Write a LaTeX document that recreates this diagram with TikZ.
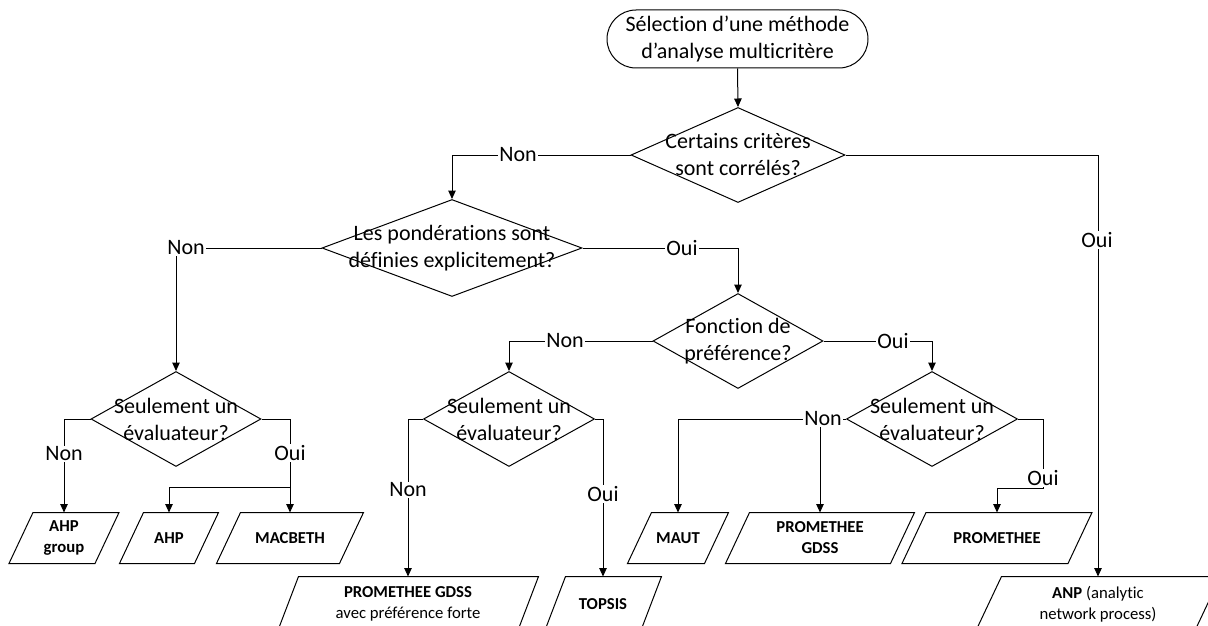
\documentclass[tikz,border=0pt]{standalone}
\usepackage{fontspec}
\setmainfont{Carlito}[Ligatures=NoCommon]
\usetikzlibrary{shapes.geometric,arrows.meta}
\newcommand\mfBig{\fontsize{22}{27}\selectfont}
\newcommand\mfBox{\fontsize{16.7}{21}\selectfont}
% name, centre, full width, height, slant, text
\newcommand\iobox[6]{%
  \node[iotext, minimum width=#3, minimum height=#4] (#1) at (#2) {#6};
  \draw[ioframe] ([xshift=#5]#1.north west) -- (#1.north east) -- ([xshift=-#5]#1.south east) -- (#1.south west) -- cycle;}
\begin{document}
\begin{tikzpicture}[x=1pt,y=-1pt,
  line width=1pt,
  dec/.style={draw, shape=diamond, inner sep=0pt},
  dtext/.style={font=\mfBig, align=center, inner sep=0pt},
  term/.style={draw, rectangle, rounded corners=29pt, minimum width=261pt, minimum height=58pt, align=center, font=\mfBig, inner sep=0pt},
  iotext/.style={inner sep=0pt, align=center, font=\mfBox},
  ioframe/.style={draw, line join=miter},
  arr/.style={-{Triangle[length=8.5pt,width=7.5pt]}},
  lab/.style={fill=white, inner sep=1pt, font=\mfBig}]
\useasboundingbox (0,0) rectangle (1208,626);
\clip (0,0) rectangle (1208,626);

% start
\node[term] (start) at (737.5,39) {Sélection d’une méthode\\d’analyse multicritère};

% decisions
\node[dec, minimum width=214pt, minimum height=95pt, label={[dtext]center:Certains critères\\sont corrélés?}] (d1) at (738,155) {};
\node[dec, minimum width=260pt, minimum height=97pt, label={[dtext]center:Les pondérations sont\\définies explicitement?}] (d2) at (452,248) {};
\node[dec, minimum width=170pt, minimum height=95pt, label={[dtext]center:Seulement un\\évaluateur?}] (d3) at (176,419) {};
\node[dec, minimum width=171pt, minimum height=95pt, label={[dtext]center:Seulement un\\évaluateur?}] (d4) at (509,419) {};
\node[dec, minimum width=170pt, minimum height=95pt, label={[dtext]center:Fonction de\\préférence?}] (d5) at (738,341) {};
\node[dec, minimum width=171pt, minimum height=95pt, label={[dtext]center:Seulement un\\évaluateur?}] (d6) at (932,419) {};

% outputs
\iobox{ahpg}{64,538}{109}{50}{24}{\textbf{AHP}\\\textbf{group}}
\iobox{ahp}{169,538}{98}{50}{24}{\textbf{AHP}}
\iobox{macb}{290,538}{146}{50}{24}{\textbf{MACBETH}}
\iobox{pgf}{408,604}{260}{54}{21}{\textbf{PROMETHEE GDSS}\\avec préférence forte}
\iobox{topsis}{603,604}{116}{54}{21}{\textbf{TOPSIS}}
\iobox{maut}{678,538}{100}{50}{24}{\textbf{MAUT}}
\iobox{pgdss}{820,538}{188}{50}{24}{\textbf{PROMETHEE}\\\textbf{GDSS}}
\iobox{prom}{997,538}{189}{50}{24}{\textbf{PROMETHEE}}
\iobox{anp}{1098,604}{244}{54}{26}{\textbf{ANP} (analytic\\network process)}

% junctions
\coordinate (j1) at (290,487);
\coordinate (j2) at (820,419);
\coordinate (c1) at (1043,488);

% connectors
\draw[arr] (start.south) -- (d1.north);
\draw[arr] (d1.west) -| (d2.north);
\draw[arr] (d1.east) -| (anp.north);
\draw[arr] (d2.west) -| (d3.north);
\draw[arr] (d2.east) -| (d5.north);
\draw[arr] (d5.west) -| (d4.north);
\draw[arr] (d5.east) -| (d6.north);
\draw[arr] (d3.west) -| (ahpg.north);
\draw[arr] (d3.east) -| (macb.north);
\draw[arr] (j1) -| (ahp.north);
\draw[arr] (d4.west) -| (pgf.north);
\draw[arr] (d4.east) -| (topsis.north);
\draw[arr] (d6.west) -| (maut.north);
\draw[arr] (j2) -- (pgdss.north);
\draw[arr] (d6.east) -| (c1) -| (prom.north);

% labels
\node[lab] (l1) at (518,155) {Non};
\node[lab] (l2) at (1097,240) {Oui};
\node[lab] (l3) at (186,248) {Non};
\node[lab] (l4) at (682,248) {Oui};
\node[lab] (l5) at (565,341) {Non};
\node[lab] (l6) at (893,341) {Oui};
\node[lab] (l7) at (64,454) {Non};
\node[lab] (l8) at (290,453) {Oui};
\node[lab] (l9) at (408,490) {Non};
\node[lab] (l10) at (603,494) {Oui};
\node[lab] (l11) at (823,419) {Non};
\node[lab] (l12) at (1043,478) {Oui};
\end{tikzpicture}
\end{document}
